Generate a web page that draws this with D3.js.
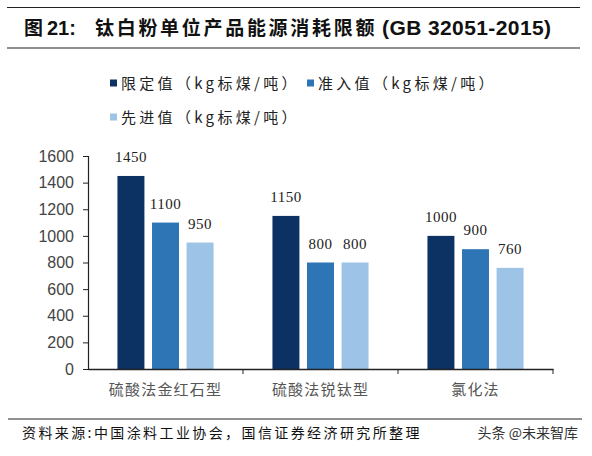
<!DOCTYPE html>
<html>
<head>
<meta charset="utf-8">
<script src="https://cdn.jsdelivr.net/npm/d3@7"></script>
<style>
  body { margin: 0; background: #fff; }
  svg { display: block; }
</style>
</head>
<body>
<script>
var WIDTH = 592;
var HEIGHT = 456;

// data
var categories = ["硫酸法金红石型", "硫酸法锐钛型", "氯化法"];
var seriesNames = ["限定值（kg标煤/吨）", "准入值（kg标煤/吨）", "先进值（kg标煤/吨）"];
var limitValues = [1450, 1150, 1000];
var entryValues = [1100, 800, 900];
var advancedValues = [950, 800, 760];
var yTicks = [0, 200, 400, 600, 800, 1000, 1200, 1400, 1600];
var colors = ["#0b3262", "#2e75b6", "#9dc3e6"];

var seriesValues = [limitValues, entryValues, advancedValues];

var svg = d3.select("body")
  .append("svg")
  .attr("width", WIDTH)
  .attr("height", HEIGHT);

var cjk = "'Noto Sans CJK SC', sans-serif";
var latin = "'Liberation Sans', Arial, sans-serif";

// title + rules
svg.append("line").attr("x1", 7).attr("x2", 580).attr("y1", 7.5).attr("y2", 7.5)
  .attr("stroke", "#222").attr("stroke-width", 1.2);
svg.append("line").attr("x1", 7).attr("x2", 580).attr("y1", 48).attr("y2", 48)
  .attr("stroke", "#222").attr("stroke-width", 1.2);
var title = svg.append("text")
  .attr("y", 35)
  .attr("font-weight", "bold")
  .attr("font-size", 19)
  .attr("fill", "#111");
title.append("tspan").attr("x", 24).attr("font-family", cjk).text("图");
title.append("tspan").attr("x", 47).attr("font-family", latin).attr("font-size", 20).text("21:");
title.append("tspan").attr("x", 95).attr("font-family", cjk)
  .attr("letter-spacing", 2.7).text("钛白粉单位产品能源消耗限额");
title.append("tspan").attr("x", 382).attr("font-family", latin)
  .attr("font-size", 21).attr("letter-spacing", 0.4).text("(GB 32051-2015)");

// legend
var legendPos = [[110, 83], [307, 83], [110, 117]];
var legend = svg.selectAll(".legend")
  .data(seriesNames)
  .enter().append("g")
  .attr("class", "legend")
  .attr("transform", function (d, i) { return "translate(" + legendPos[i][0] + "," + legendPos[i][1] + ")"; });
legend.append("rect")
  .attr("x", 0).attr("y", -3.5).attr("width", 7).attr("height", 7)
  .attr("fill", function (d, i) { return colors[i]; });
legend.append("text")
  .attr("x", 11).attr("y", 5.5)
  .attr("font-family", cjk)
  .attr("font-size", 15)
  .attr("letter-spacing", 3.3)
  .attr("fill", "#222")
  .text(function (d) { return d; });

// plot area
var plotLeft = 88, plotRight = 553, plotTop = 156, plotBottom = 369;

var x0 = d3.scaleBand()
  .domain(categories)
  .range([plotLeft, plotRight])
  .paddingInner(0.38)
  .paddingOuter(0.19);

var x1 = d3.scaleBand()
  .domain(d3.range(seriesNames.length))
  .range([0, x0.bandwidth()])
  .paddingInner(0.22)
  .paddingOuter(0);

var y = d3.scaleLinear()
  .domain([0, 1600])
  .range([plotBottom, plotTop]);

// bars
var groups = svg.selectAll(".grp")
  .data(categories)
  .enter().append("g")
  .attr("class", "grp")
  .attr("transform", function (d) { return "translate(" + x0(d) + ",0)"; });

function rows(d, ci) {
  return seriesValues.map(function (vals, si) { return { s: si, v: vals[ci] }; });
}

groups.selectAll("rect")
  .data(rows)
  .enter().append("rect")
  .attr("x", function (d) { return x1(d.s); })
  .attr("y", function (d) { return y(d.v); })
  .attr("width", x1.bandwidth())
  .attr("height", function (d) { return plotBottom - y(d.v); })
  .attr("fill", function (d) { return colors[d.s]; });

groups.selectAll(".val")
  .data(rows)
  .enter().append("text")
  .attr("class", "val")
  .attr("x", function (d) { return x1(d.s) + x1.bandwidth() / 2; })
  .attr("y", function (d) { return y(d.v) - 14; })
  .attr("text-anchor", "middle")
  .attr("font-family", "'Liberation Serif', serif")
  .attr("font-size", 15)
  .attr("letter-spacing", 0.5)
  .attr("fill", "#222")
  .text(function (d) { return d.v; });

// y axis
var yAxis = svg.append("g")
  .attr("transform", "translate(" + plotLeft + ",0)")
  .call(d3.axisLeft(y).tickValues(yTicks).tickFormat(d3.format("d")).tickSize(5).tickPadding(9));
yAxis.select(".domain").attr("stroke", "#222").attr("stroke-width", 1.2);
yAxis.selectAll(".tick line").attr("stroke", "#222");
yAxis.selectAll(".tick text")
  .attr("font-family", latin)
  .attr("font-size", 16)
  .attr("fill", "#444");

// x axis
var xAxis = svg.append("g")
  .attr("transform", "translate(0," + plotBottom + ")")
  .call(d3.axisBottom(x0).tickSize(0).tickPadding(15));
xAxis.select(".domain").attr("stroke", "#222").attr("stroke-width", 1.6);
xAxis.selectAll(".tick text")
  .attr("font-family", cjk)
  .attr("font-size", 15)
  .attr("letter-spacing", 1.2)
  .attr("fill", "#555");
// category separators
svg.selectAll(".sep")
  .data(categories)
  .enter().append("line")
  .attr("x1", function (d) { return x0(d) + x0.bandwidth() + x0.step() * x0.paddingInner() / 2; })
  .attr("x2", function (d) { return x0(d) + x0.bandwidth() + x0.step() * x0.paddingInner() / 2; })
  .attr("y1", plotBottom)
  .attr("y2", plotBottom + 5)
  .attr("stroke", "#222");

// footer
svg.append("line").attr("x1", 8).attr("x2", 582).attr("y1", 419).attr("y2", 419)
  .attr("stroke", "#222").attr("stroke-width", 1);
svg.append("text")
  .attr("x", 22).attr("y", 438)
  .attr("font-family", cjk)
  .attr("font-size", 14)
  .attr("letter-spacing", 2.4)
  .attr("fill", "#111")
  .text("资料来源:中国涂料工业协会，国信证券经济研究所整理");
svg.append("text")
  .attr("x", 578).attr("y", 438)
  .attr("text-anchor", "end")
  .attr("font-family", cjk)
  .attr("font-size", 14)
  .attr("fill", "#333")
  .text("头条 @未来智库");
</script>
</body>
</html>
